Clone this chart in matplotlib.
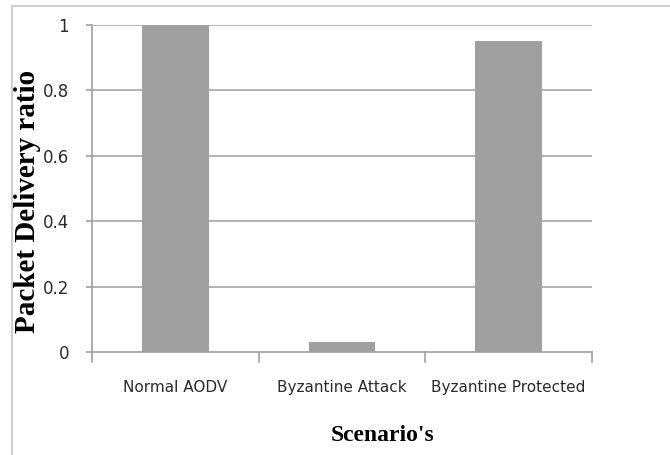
import matplotlib
matplotlib.use("Agg")
import matplotlib.pyplot as plt
from matplotlib.patches import Rectangle

scenarios = ["Normal AODV", "Byzantine Attack", "Byzantine Protected"]
pdr = [1.0, 0.03, 0.95]
yticks = [0, 0.2, 0.4, 0.6, 0.8, 1]
ytick_labels = ["0", "0.2", "0.4", "0.6", "0.8", "1"]

fig = plt.figure(figsize=(6.7, 4.55), dpi=100)
ax = fig.add_axes([92 / 670, 1 - 352 / 455, 500 / 670, 327 / 455])

# outer frame like the pasted office chart
fig.patches.append(Rectangle((12 / 670, -0.1), 1.0, 1 - 6 / 455 + 0.1,
                             transform=fig.transFigure, fill=False,
                             edgecolor="#cfcfcf", lw=1.5, clip_on=False))

x = range(len(scenarios))
ax.bar(x, pdr, width=0.4, color="#a0a0a0", zorder=3)

ax.set_xlim(-0.5, 2.5)
ax.set_ylim(0, 1)
ax.set_yticks(yticks)
ax.set_yticklabels(ytick_labels, fontsize=12, color="#2a2a2a")
ax.set_xticks(list(x))
ax.set_xticklabels(scenarios, fontsize=11, color="#2a2a2a")
ax.tick_params(axis="x", length=0, pad=20)
ax.tick_params(axis="y", length=4.5, color="#a0a0a0", width=1.2, pad=12)

# category separator ticks on the x axis
for b in [-0.5, 0.5, 1.5, 2.5]:
    ax.plot([b, b], [0, -0.03], color="#a0a0a0", lw=1.2, clip_on=False)

for y in yticks[1:]:
    ax.axhline(y, color="#a6a6a6", lw=1.2, zorder=1)

for s in ["top", "right"]:
    ax.spines[s].set_visible(False)
ax.spines["left"].set_color("#a0a0a0")
ax.spines["bottom"].set_color("#a0a0a0")
ax.spines["left"].set_linewidth(1.2)
ax.spines["bottom"].set_linewidth(1.2)

ax.set_ylabel("Packet Delivery ratio", fontsize=21, fontweight="bold",
              family="Liberation Serif")
ax.set_xlabel("Scenario's", fontsize=17, fontweight="bold",
              family="Liberation Serif")
ax.yaxis.set_label_coords(-0.102, 0.46)
ax.xaxis.set_label_coords(0.582, -0.222)

fig.savefig("out.png", dpi=100)
